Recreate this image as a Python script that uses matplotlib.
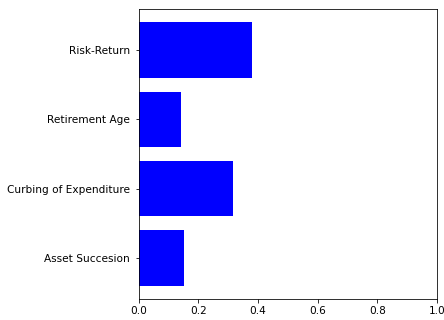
import matplotlib
matplotlib.use("Agg")
import matplotlib.pyplot as plt

categories = ["Asset Succesion", "Curbing of Expenditure", "Retirement Age", "Risk-Return"]
values = [0.152, 0.317, 0.142, 0.379]

fig = plt.figure(figsize=(444 / 72, 320 / 72), dpi=72)
ax = fig.add_axes([138.7 / 444, (320 - 299) / 320, (437 - 138.7) / 444, (299 - 9) / 320])
ax.barh(categories, values, color="blue")
ax.set_xlim(0, 1.0)
ax.tick_params(labelsize=10.5)
ax.tick_params(axis="y", pad=5)
fig.savefig("out.png", dpi=72)
